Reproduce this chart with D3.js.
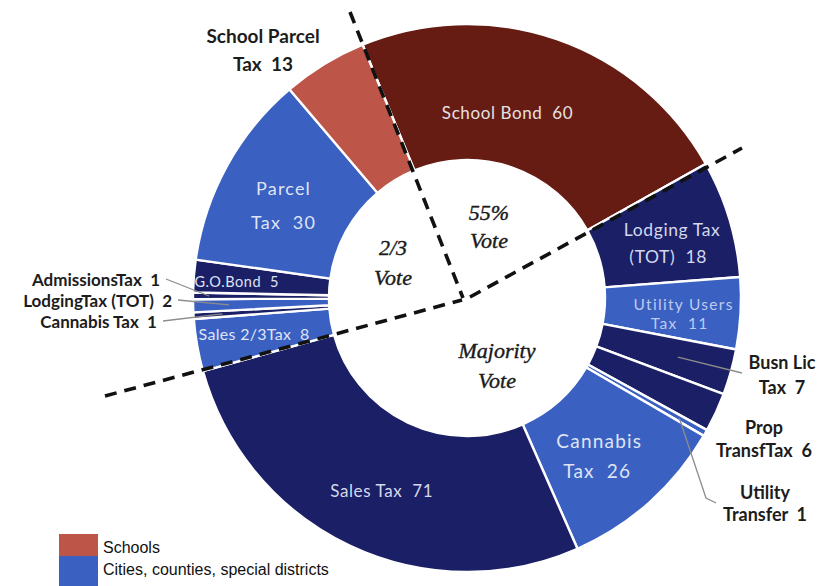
<!DOCTYPE html>
<html>
<head>
<meta charset="utf-8">
<script src="https://cdn.jsdelivr.net/npm/d3@7"></script>
<style>
  html, body { margin: 0; padding: 0; background: #ffffff; }
  svg { display: block; }
</style>
</head>
<body>
<svg id="chart" width="830" height="586"></svg>
<script>
// Measures on the ballot, clockwise from the top of the ring
const categories = [
  "School Bond", "Lodging Tax (TOT)", "Utility Users Tax", "Busn Lic Tax",
  "Prop TransfTax", "Utility Transfer", "Cannabis Tax", "Sales Tax",
  "Sales 2/3Tax", "Cannabis Tax", "LodgingTax (TOT)", "AdmissionsTax",
  "G.O.Bond", "Parcel Tax", "School Parcel Tax"
];
const values = [60, 18, 11, 7, 6, 1, 26, 71, 8, 1, 2, 1, 5, 30, 13];
const sectors = [
  "school", "local", "local", "local", "local", "local", "local", "local",
  "local", "local", "local", "local", "local", "local", "school"
];
const shades = [
  "dark", "dark", "light", "dark", "dark", "light", "light", "dark",
  "light", "dark", "light", "dark", "dark", "light", "light"
];
const labelLines = [
  ["School Bond"], ["Lodging Tax", "(TOT)"], ["Utility Users", "Tax"], ["Busn Lic", "Tax"],
  ["Prop", "TransfTax"], ["Utility", "Transfer"], ["Cannabis", "Tax"], ["Sales Tax"],
  ["Sales 2/3Tax"], ["Cannabis Tax"], ["LodgingTax (TOT)"], ["AdmissionsTax"],
  ["G.O.Bond"], ["Parcel", "Tax"], ["School Parcel", "Tax"]
];
const legendLabels = ["Schools", "Cities, counties, special districts"];
const voteLabels = [["2/3", "Vote"], ["55%", "Vote"], ["Majority", "Vote"]];

// ---- layout ----
const cx = 467, cy = 298, R = 274, R0 = 138;
const deg = Math.PI / 180;
const startAngle = -22.4 * deg;

const palette = {
  school: { dark: "#661b13", light: "#bd5549" },
  local:  { dark: "#1a1f66", light: "#3a60c1" }
};
const colorOf = i => palette[sectors[i]][shades[i]];

const svg = d3.select("#chart");
const g = svg.append("g").attr("transform", `translate(${cx},${cy})`);

const rows = categories.map((name, i) => ({ i, name, value: values[i] }));
const pie = d3.pie().sort(null).value(d => d.value)
  .startAngle(startAngle).endAngle(startAngle + 2 * Math.PI);
const arcs = pie(rows);
const arc = d3.arc().innerRadius(R0).outerRadius(R);

// ring slices
g.selectAll("path.slice").data(arcs).join("path")
  .attr("class", "slice")
  .attr("d", arc)
  .attr("fill", d => colorOf(d.data.i))
  .attr("stroke", "#ffffff")
  .attr("stroke-width", 2.4)
  .attr("stroke-linejoin", "round");

const sp = "\u00a0\u00a0";
const linesFor = i => {
  const l = labelLines[i].slice();
  l[l.length - 1] = l[l.length - 1] + sp + values[i];
  return l;
};
const pointAt = (d, r) => {
  const a = (d.startAngle + d.endAngle) / 2;
  return [r * Math.sin(a), -r * Math.cos(a)];
};

// labels drawn inside their slices: offset from the slice centroid
const insideLayout = {
  0:  { dx: -27, dy: 9,  size: 17,   gap: 0,  ls: 0.6, fill: "#e4e2e2" },
  1:  { dx: 6,   dy: 5,  size: 17.5, gap: 27, ls: 0.6, fill: "#d3d8ec", shift: [2, -2] },
  2:  { dx: 9,   dy: 4,  size: 15.5, gap: 19, ls: 1.3, fill: "#bfcaee", shift: [2, -2] },
  6:  { dx: -6,  dy: 4,  size: 19,   gap: 30, ls: 1.2, fill: "#dfe4f4", shift: [1, -1] },
  7:  { dx: 3,   dy: 6,  size: 17,   gap: 0,  ls: 0.6, fill: "#d6d9ea" },
  8:  { dx: -10, dy: 0,  size: 16,   gap: 0,  ls: 0.3, fill: "#dfe4f6" },
  12: { dx: -25, dy: 0,  size: 14.5, gap: 0,  ls: 0.6, fill: "#dfe2f2" },
  13: { dx: -3,  dy: 6,  size: 18,   gap: 34, ls: 1.2, fill: "#dfe4f4" }
};

Object.keys(insideLayout).forEach(k => {
  const i = +k, L = insideLayout[k], d = arcs[i];
  const [x, y] = arc.centroid(d);
  const lines = linesFor(i);
  const t = g.append("text")
    .attr("font-family", "Lato, 'Open Sans', sans-serif")
    .attr("font-size", L.size)
    .attr("fill", L.fill)
    .attr("letter-spacing", L.ls)
    .attr("text-anchor", "middle");
  const y0 = y + L.dy - (lines.length - 1) * L.gap / 2;
  lines.forEach((s, j) => {
    const sh = L.shift ? (j === 0 ? L.shift[0] : L.shift[1]) : 0;
    t.append("tspan")
      .attr("x", x + L.dx + sh)
      .attr("y", y0 + j * L.gap)
      .attr("dominant-baseline", "central")
      .text(s);
  });
});

// labels placed beside the ring, some with leader lines to their slice
const outsideLayout = {
  3:  { x: 782, y: 362, anchor: "middle", gap: 25, size: 18, leader: [[742, 373]], reach: 219 },
  4:  { x: 764, y: 427, anchor: "middle", gap: 23, size: 18 },
  5:  { x: 765, y: 492, anchor: "middle", gap: 22, size: 18, leader: [[716, 503], [706, 498]], reach: 244 },
  9:  { x: 157, y: 321, anchor: "end", gap: 0, size: 17, leader: [[163, 321]], reach: 245 },
  10: { x: 172, y: 300, anchor: "end", gap: 0, size: 17, leader: [[178, 300]], reach: 238 },
  11: { x: 160, y: 279, anchor: "end", gap: 0, size: 17, leader: [[166, 279]], reach: 258 },
  14: { x: 263, y: 35,  anchor: "middle", gap: 28, size: 19 }
};

const lead = svg.append("g")
  .attr("fill", "none")
  .attr("stroke", "#8c8c8c")
  .attr("stroke-width", 1.3);

Object.keys(outsideLayout).forEach(k => {
  const i = +k, L = outsideLayout[k], d = arcs[i];
  if (L.leader) {
    const [px, py] = pointAt(d, L.reach);
    const pts = L.leader.concat([[cx + px, cy + py]]);
    lead.append("path").attr("d", d3.line()(pts));
  }
  const t = svg.append("text")
    .attr("font-family", "Lato, 'Open Sans', sans-serif")
    .attr("font-weight", 700)
    .attr("font-size", L.size)
    .attr("fill", "#1c1c1c")
    .attr("text-anchor", L.anchor);
  linesFor(i).forEach((s, j) => {
    t.append("tspan")
      .attr("x", L.x)
      .attr("y", L.y + j * L.gap)
      .attr("dominant-baseline", "central")
      .text(s);
  });
});

// dashed dividers between vote thresholds (offsets from the ring centre)
const dividers = [
  [[-117, -286], [-4, 0]],
  [[3, -1], [275, -150]],
  [[-362, 98], [-5, 2]]
];
svg.append("g")
  .selectAll("line").data(dividers).join("line")
  .attr("x1", d => cx + d[0][0]).attr("y1", d => cy + d[0][1])
  .attr("x2", d => cx + d[1][0]).attr("y2", d => cy + d[1][1])
  .attr("stroke", "#111111")
  .attr("stroke-width", 3.6)
  .attr("stroke-dasharray", "12,8");

// vote threshold captions in the hole
const voteLayout = [
  { x: -74, y: -51, gap: 30 },
  { x: 22,  y: -86, gap: 28 },
  { x: 30,  y: 52,  gap: 30 }
];
voteLabels.forEach((lines, k) => {
  const L = voteLayout[k];
  const t = svg.append("text")
    .attr("font-family", "'Liberation Serif', 'Times New Roman', serif")
    .attr("font-style", "italic")
    .attr("font-size", 22)
    .attr("fill", "#1a1a1a")
    .attr("stroke", "#1a1a1a")
    .attr("stroke-width", 0.4)
    .attr("text-anchor", "middle");
  lines.forEach((s, j) => {
    t.append("tspan")
      .attr("x", cx + L.x)
      .attr("y", cy + L.y + j * L.gap)
      .attr("dominant-baseline", "central")
      .text(s);
  });
});

// legend
const legendColors = [palette.school.light, palette.local.light];
const legend = svg.append("g").attr("transform", "translate(59,534)");
legend.selectAll("rect").data(legendLabels).join("rect")
  .attr("x", 0).attr("y", (d, k) => k * 22)
  .attr("width", 39).attr("height", (d, k) => k === legendLabels.length - 1 ? 40 : 22)
  .attr("fill", (d, k) => legendColors[k]);
legend.selectAll("text").data(legendLabels).join("text")
  .attr("x", 44).attr("y", (d, k) => 13 + k * 22)
  .attr("dominant-baseline", "central")
  .attr("font-family", "'Liberation Sans Narrow', 'Arial Narrow', sans-serif")
  .attr("font-size", 16)
  .attr("fill", "#111111")
  .text(d => d);
</script>
</body>
</html>
